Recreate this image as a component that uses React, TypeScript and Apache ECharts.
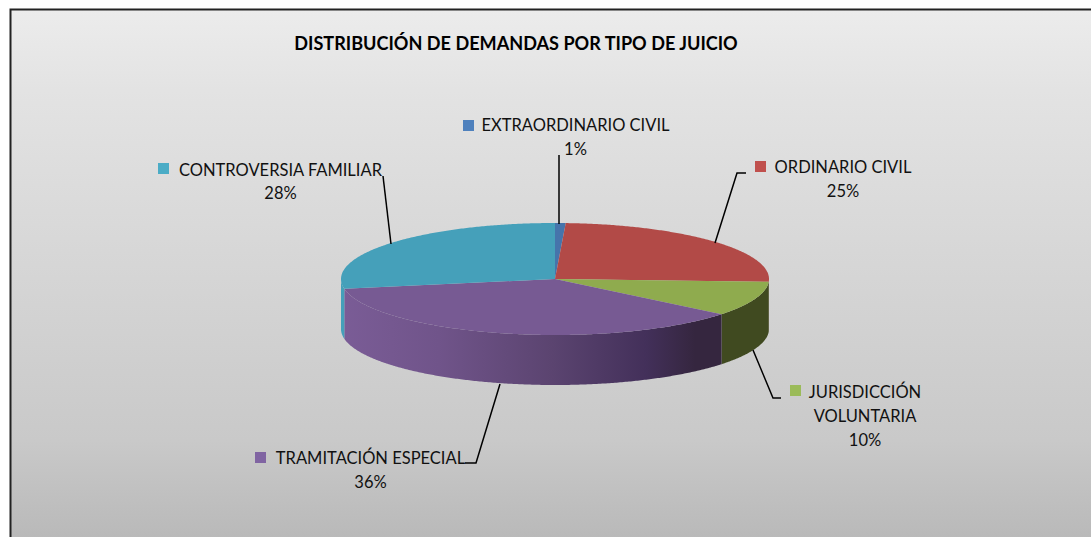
import React, { useEffect, useRef } from "react";
import * as echarts from "echarts";

const title = "DISTRIBUCIÓN DE DEMANDAS POR TIPO DE JUICIO";
const categories = ["EXTRAORDINARIO CIVIL", "ORDINARIO CIVIL", "JURISDICCIÓN\nVOLUNTARIA", "TRAMITACIÓN ESPECIAL", "CONTROVERSIA FAMILIAR"];
const values = [0.8, 25, 10, 36.4, 27.8];
const topColors = ["#4674ab", "#b24a47", "#8fab4e", "#775a93", "#45a0ba"];
const keyColors = ["#4f81bd", "#c0504d", "#9bbb59", "#8064a2", "#4bacc6"];
const sideColors: any[] = [
  "#2c4a6e",
  "#6b2c2a",
  "#404a20",
  [
    [0, "#7a5c96"],
    [0.25, "#70548a"],
    [0.55, "#5b4470"],
    [0.8, "#43305a"],
    [0.93, "#35263f"],
    [1, "#35263f"],
  ],
  "#45a0ba",
];

const CX = 555, CY = 279, RX = 214, RY = 56, DEPTH = 50;
// label layout: swatch left/top, text centre x, first line centre y, percent line centre y
const labelLayout = [
  { sx: 463, sy: 120, tx: 575.5, ty: 125, py: 149 },
  { sx: 755, sy: 161, tx: 843, ty: 167, py: 191 },
  { sx: 790, sy: 385, tx: 865, ty: 392, py: 440 },
  { sx: 255, sy: 452, tx: 370.5, ty: 458, py: 482 },
  { sx: 158, sy: 163, tx: 280.5, ty: 170, py: 193 },
];
const leaders = [
  [[559, 155], [559, 224]],
  [[746, 173], [737, 173], [715, 243]],
  [[753, 350], [773, 398], [781, 398]],
  [[465, 463], [476, 463], [500, 384]],
  [[383, 176], [391, 244]],
];
const FONT = "Lato";

const total = values.reduce((a, b) => a + b, 0);
const pt = (deg: number, dy = 0) => {
  const r = (deg * Math.PI) / 180;
  return [CX + RX * Math.sin(r), CY - RY * Math.cos(r) + dy];
};
const arc = (a0: number, a1: number, dy = 0) => {
  const out: number[][] = [];
  const n = Math.max(2, Math.ceil(Math.abs(a1 - a0) / 0.5));
  for (let i = 0; i <= n; i++) out.push(pt(a0 + ((a1 - a0) * i) / n, dy));
  return out;
};

export default function App() {
  const ref = useRef<HTMLDivElement>(null);
  useEffect(() => {
    const chart = echarts.init(ref.current!, undefined, { renderer: "svg" });
    const renderItem = (params: any, api: any) => {
      const i = params.dataIndex;
      const v = api.value(0);
      const before = values.slice(0, i).reduce((a, b) => a + b, 0);
      const a0 = (before / total) * 360;
      const a1 = ((before + v) / total) * 360;
      const children: any[] = [];
      const s0 = Math.max(a0, 90), s1 = Math.min(a1, 270);
      if (s1 > s0) {
        const c = sideColors[i];
        const fill = Array.isArray(c)
          ? new echarts.graphic.LinearGradient(0, 0, 1, 0, c.map((s: any) => ({ offset: s[0], color: s[1] })))
          : c;
        children.push({
          type: "polygon",
          shape: { points: [...arc(s0, s1), ...arc(s1, s0, DEPTH)] },
          style: { fill },
          silent: true,
        });
      }
      children.push({
        type: "polygon",
        shape: { points: [[CX, CY], ...arc(a0, a1)] },
        style: { fill: topColors[i] },
        silent: true,
      });
      const l = labelLayout[i];
      children.push({
        type: "polyline",
        shape: { points: leaders[i] },
        style: { stroke: "#000", lineWidth: 1.5, fill: "none" },
        silent: true,
      });
      children.push({
        type: "rect",
        shape: { x: l.sx, y: l.sy, width: 11, height: 11 },
        style: { fill: keyColors[i] },
        silent: true,
      });
      const lines = categories[i].split("\n");
      lines.forEach((t: string, k: number) => {
        children.push({
          type: "text",
          style: {
            x: l.tx, y: l.ty + k * 24, text: t, fill: "#111", font: `16.5px ${FONT}`,
            align: "center", verticalAlign: "middle",
          },
          silent: true,
        });
      });
      children.push({
        type: "text",
        style: {
          x: l.tx, y: l.py, text: `${Math.round(v)}%`, fill: "#111", font: `16.5px ${FONT}`,
          align: "center", verticalAlign: "middle",
        },
        silent: true,
      });
      return { type: "group", children };
    };
    chart.setOption({
      animation: false,
      graphic: [
        {
          type: "rect",
          z: -10,
          silent: true,
          shape: { x: 10.5, y: 9.5, width: 1200, height: 700 },
          style: {
            fill: new echarts.graphic.LinearGradient(0, 0, 0, 1, [
              { offset: 0, color: "#ececec" },
              { offset: 0.115, color: "#e3e3e3" },
              { offset: 0.615, color: "#c9c9c9" },
              { offset: 0.755, color: "#b9b9b9" },
              { offset: 1, color: "#b0b0b0" },
            ]),
            stroke: "#222",
            lineWidth: 2,
          },
        },
        {
          type: "text",
          silent: true,
          style: {
            x: 516, y: 43, text: title, fill: "#000", font: `bold 18.1px ${FONT}`,
            align: "center", verticalAlign: "middle",
          },
        },
      ],
      series: [
        {
          type: "custom",
          coordinateSystem: "none",
          silent: true,
          renderItem,
          data: values.map((v) => [v]),
        },
      ],
    });
    return () => chart.dispose();
  }, []);
  return (
    <div
      ref={ref}
      style={{ position: "fixed", left: 0, top: 0, width: 1091, height: 537, background: "#fff" }}
    />
  );
}
